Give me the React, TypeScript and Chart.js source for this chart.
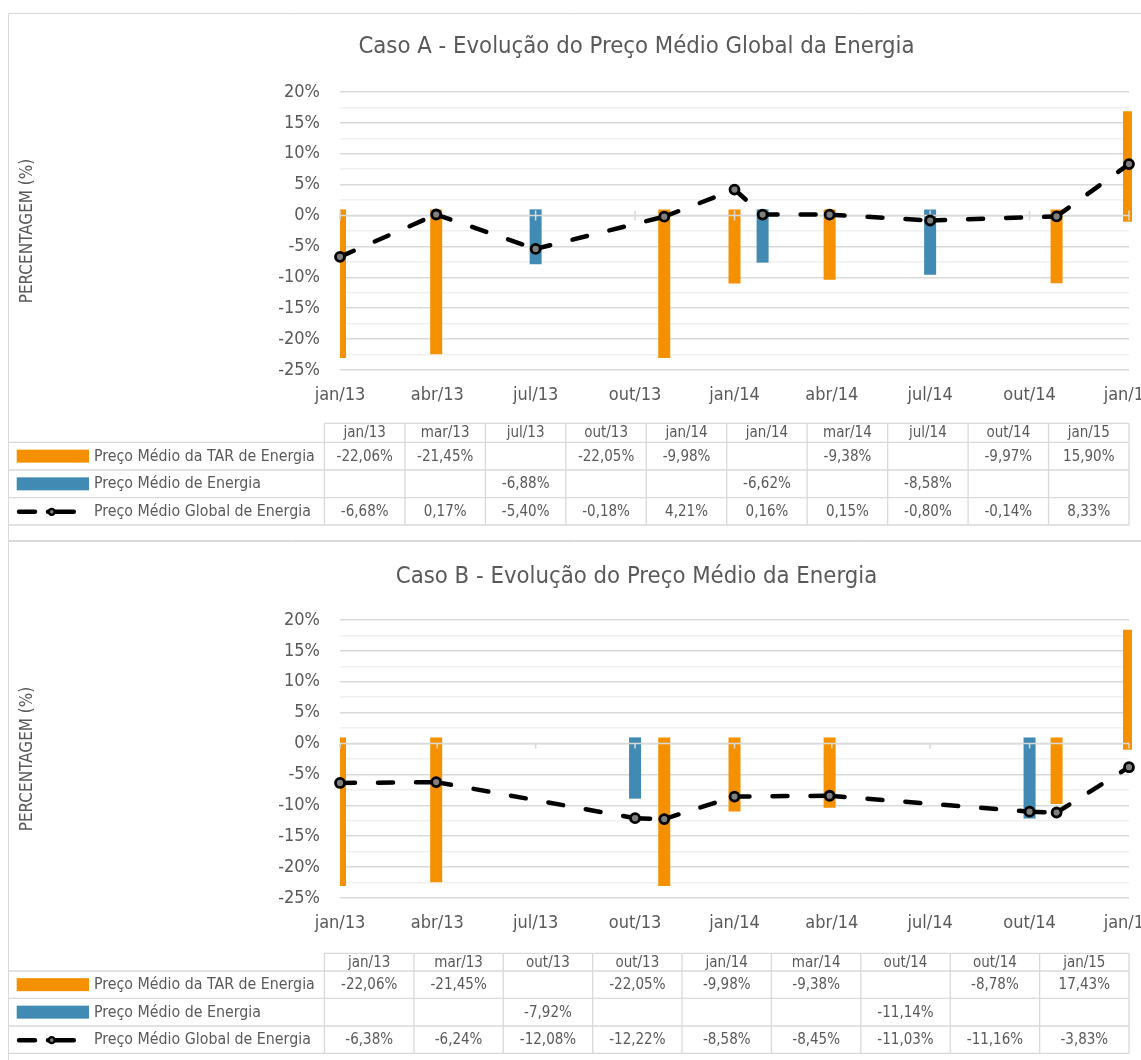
import React, { useEffect, useRef } from 'react';
import { Chart, registerables } from 'chart.js';

Chart.register(...registerables);

// ---------- shared data ----------
const SERIES_NAMES = [
  'Preço Médio da TAR de Energia',
  'Preço Médio de Energia',
  'Preço Médio Global de Energia',
];

const AXIS_TICK_DATES = [
  '2013-01-01', '2013-04-01', '2013-07-01', '2013-10-01', '2014-01-01',
  '2014-04-01', '2014-07-01', '2014-10-01', '2015-01-01',
];
const AXIS_TICK_LABELS = ['jan/13', 'abr/13', 'jul/13', 'out/13', 'jan/14', 'abr/14', 'jul/14', 'out/14', 'jan/15'];
const Y_TITLE = 'PERCENTAGEM (%)';

// ---------- Caso A ----------
const A_TITLE = 'Caso A - Evolução do Preço Médio Global da Energia';
const A_COLUMNS = ['jan/13', 'mar/13', 'jul/13', 'out/13', 'jan/14', 'jan/14', 'mar/14', 'jul/14', 'out/14', 'jan/15'];
const A_DATES = ['2013-01-01', '2013-03-31', '2013-07-01', '2013-10-28', '2014-01-01', '2014-01-27', '2014-03-30', '2014-07-01', '2014-10-26', '2015-01-01'];
const A_TAR = [-22.06, -21.45, null, -22.05, -9.98, null, -9.38, null, -9.97, 15.9];
const A_ENERGIA = [null, null, -6.88, null, null, -6.62, null, -8.58, null, null];
const A_GLOBAL = [-6.68, 0.17, -5.4, -0.18, 4.21, 0.16, 0.15, -0.8, -0.14, 8.33];

// ---------- Caso B ----------
const B_TITLE = 'Caso B - Evolução do Preço Médio da Energia';
const B_COLUMNS = ['jan/13', 'mar/13', 'out/13', 'out/13', 'jan/14', 'mar/14', 'out/14', 'out/14', 'jan/15'];
const B_DATES = ['2013-01-01', '2013-03-31', '2013-10-01', '2013-10-28', '2014-01-01', '2014-03-30', '2014-10-01', '2014-10-26', '2015-01-01'];
const B_TAR = [-22.06, -21.45, null, -22.05, -9.98, -9.38, null, -8.78, 17.43];
const B_ENERGIA = [null, null, -7.92, null, null, null, -11.14, null, null];
const B_GLOBAL = [-6.38, -6.24, -12.08, -12.22, -8.58, -8.45, -11.03, -11.16, -3.83];

// ---------- styles ----------
const FONT = "'DejaVu Sans Condensed', 'DejaVu Sans', sans-serif";
const TEXT = '#595959';
const GRID = '#d9d9d9';
const GRID_MINOR = '#f0f0f0';
const ORANGE = '#F59100';
const BLUE = '#418AB3';
const BAR_PAD = 1; // bars extend ~1 point beyond zero and value
const Y_MIN = -25;
const Y_MAX = 20;
const Y_STEP = 2.5;

const CANVAS_W = 1133;
const CANVAS_H = 528;
const TABLE_LEFT = 316.5;

const dayOf = (iso: string) => {
  const [y, m, d] = iso.split('-').map(Number);
  return Math.round((Date.UTC(y, m - 1, d) - Date.UTC(2013, 0, 1)) / 86400000);
};
const TICK_DAYS = AXIS_TICK_DATES.map(dayOf);
const fmtPct = (v: number) => v.toFixed(2).replace('.', ',') + '%';

type CaseCfg = {
  title: string;
  columns: string[];
  dates: string[];
  tar: (number | null)[];
  energia: (number | null)[];
  global: number[];
  titleY: number;
  lines: number[];
  tickStyle: 'cross' | 'outside';
};

const makeDecor = (cfg: CaseCfg) => ({
  id: 'decor',
  beforeDatasetDraw(chart: any, args: any) {
    if (args.index !== 2) return;
    const { ctx, chartArea } = chart;
    const xs = chart.scales.x;
    const ys = chart.scales.y;
    const y0 = ys.getPixelForValue(0);
    ctx.save();
    ctx.strokeStyle = GRID;
    ctx.lineWidth = 1.5;
    ctx.beginPath();
    ctx.moveTo(chartArea.left, y0);
    ctx.lineTo(chartArea.right, y0);
    TICK_DAYS.forEach((d) => {
      const px = xs.getPixelForValue(d);
      ctx.moveTo(px, cfg.tickStyle === 'cross' ? y0 - 5 : y0);
      ctx.lineTo(px, y0 + 5);
    });
    ctx.stroke();
    ctx.restore();
  },
  afterDraw(chart: any) {
    const { ctx, chartArea } = chart;
    const W = chart.width;
    const H = chart.height;
    ctx.save();
    // box border
    ctx.strokeStyle = GRID;
    ctx.lineWidth = 1;
    ctx.beginPath();
    ctx.moveTo(0.5, H);
    ctx.lineTo(0.5, 0.5);
    ctx.lineTo(W, 0.5);
    ctx.moveTo(0, H - 0.5);
    ctx.lineTo(W, H - 0.5);
    ctx.stroke();

    // title
    ctx.fillStyle = TEXT;
    ctx.font = `23.7px ${FONT}`;
    ctx.textAlign = 'center';
    ctx.textBaseline = 'middle';
    ctx.fillText(cfg.title, 628.5, cfg.titleY);

    // data table
    const L = cfg.lines;
    const right = chartArea.right;
    const n = cfg.columns.length;
    const cw = (right - TABLE_LEFT) / n;
    ctx.strokeStyle = GRID;
    ctx.lineWidth = 1.3;
    ctx.beginPath();
    ctx.moveTo(TABLE_LEFT, L[0]);
    ctx.lineTo(right, L[0]);
    for (let i = 1; i < L.length; i++) {
      ctx.moveTo(0, L[i]);
      ctx.lineTo(right, L[i]);
    }
    for (let j = 0; j <= n; j++) {
      const x = TABLE_LEFT + j * cw;
      ctx.moveTo(x, L[0]);
      ctx.lineTo(x, L[L.length - 1]);
    }
    ctx.stroke();

    ctx.font = `15px ${FONT}`;
    ctx.fillStyle = TEXT;
    ctx.textAlign = 'center';
    ctx.textBaseline = 'middle';
    cfg.columns.forEach((c, j) => {
      ctx.fillText(c, TABLE_LEFT + (j + 0.5) * cw, (L[0] + L[1]) / 2 + 0.5);
    });

    const rows = [cfg.tar, cfg.energia, cfg.global];
    rows.forEach((vals, r) => {
      const mid = (L[r + 1] + L[r + 2]) / 2 + 0.5;
      ctx.fillStyle = TEXT;
      ctx.textAlign = 'center';
      ctx.font = `15px ${FONT}`;
      vals.forEach((v, j) => {
        if (v == null) return;
        ctx.fillText(fmtPct(v), TABLE_LEFT + (j + 0.5) * cw, mid);
      });
      ctx.textAlign = 'left';
      ctx.font = `15.8px ${FONT}`;
      ctx.fillText(SERIES_NAMES[r], 86, mid);
      // legend keys
      if (r < 2) {
        ctx.fillStyle = r === 0 ? ORANGE : BLUE;
        ctx.fillRect(8.7, mid - 7, 72.3, 13);
      } else {
        ctx.strokeStyle = '#000';
        ctx.lineWidth = 4.5;
        ctx.lineCap = 'round';
        ctx.beginPath();
        ctx.moveTo(11, mid);
        ctx.lineTo(27, mid);
        ctx.moveTo(40, mid);
        ctx.lineTo(65.8, mid);
        ctx.stroke();
        ctx.beginPath();
        ctx.arc(43.7, mid, 3, 0, Math.PI * 2);
        ctx.fillStyle = '#808080';
        ctx.fill();
        ctx.lineWidth = 2.4;
        ctx.strokeStyle = '#000';
        ctx.stroke();
      }
    });
    ctx.restore();
  },
});

function CaseChart({ cfg, top }: { cfg: CaseCfg; top: number }) {
  const ref = useRef<HTMLCanvasElement>(null);
  useEffect(() => {
    const canvas = ref.current;
    if (!canvas) return;
    const barData = (vals: (number | null)[]) =>
      vals
        .map((v, i) =>
          v == null
            ? null
            : { x: dayOf(cfg.dates[i]), y: [v < 0 ? BAR_PAD : -BAR_PAD, v < 0 ? v - BAR_PAD : v + BAR_PAD] }
        )
        .filter(Boolean);
    const barClip = { left: 0, top: false, right: 3, bottom: false };
    const chart = new Chart(canvas, {
      type: 'bar',
      data: {
        datasets: [
          {
            type: 'bar',
            label: SERIES_NAMES[0],
            data: barData(cfg.tar) as any,
            backgroundColor: ORANGE,
            maxBarThickness: 12,
            grouped: false,
            order: 2,
            clip: barClip as any,
          },
          {
            type: 'bar',
            label: SERIES_NAMES[1],
            data: barData(cfg.energia) as any,
            backgroundColor: BLUE,
            maxBarThickness: 12,
            grouped: false,
            order: 2,
            clip: barClip as any,
          },
          {
            type: 'line',
            label: SERIES_NAMES[2],
            data: cfg.global.map((v, i) => ({ x: dayOf(cfg.dates[i]), y: v })) as any,
            borderColor: '#000',
            borderWidth: 4.5,
            borderDash: [15, 23],
            borderCapStyle: 'round',
            borderJoinStyle: 'round',
            pointRadius: 4.5,
            pointBorderWidth: 2.8,
            pointBackgroundColor: '#808080',
            pointBorderColor: '#000',
            tension: 0,
            order: 1,
            clip: false as any,
            segment: {
              borderDashOffset: (c: any) => (c.p0DataIndex % 2) * 0.001,
            },
          } as any,
        ],
      },
      options: {
        animation: false,
        responsive: false,
        events: [],
        layout: { padding: { left: 0, right: CANVAS_W - 1121, top: 79, bottom: CANVAS_H - 357 - 45 } },
        plugins: {
          legend: { display: false },
          title: { display: false },
          tooltip: { enabled: false },
        },
        scales: {
          x: {
            type: 'linear',
            offset: false,
            min: 0,
            max: dayOf('2015-01-01'),
            grid: { display: false, drawTicks: false, offset: false },
            border: { display: false },
            afterBuildTicks: (s: any) => {
              s.ticks = TICK_DAYS.map((value) => ({ value }));
            },
            afterFit: (s: any) => {
              s.height = 45;
              s.paddingLeft = 0;
              s.paddingRight = 0;
            },
            ticks: {
              autoSkip: false,
              maxRotation: 0,
              minRotation: 0,
              padding: 15,
              color: TEXT,
              font: { family: FONT, size: 18 },
              callback: (v: any) => {
                const i = TICK_DAYS.indexOf(Number(v));
                return i >= 0 ? AXIS_TICK_LABELS[i] : '';
              },
            },
          },
          y: {
            type: 'linear',
            min: Y_MIN,
            max: Y_MAX,
            afterFit: (s: any) => {
              s.width = 332;
            },
            border: { display: false },
            grid: {
              drawTicks: false,
              lineWidth: 1.5,
              color: (c: any) => (Math.abs(c.tick.value % 5) < 1e-6 ? GRID : GRID_MINOR),
            },
            ticks: {
              stepSize: Y_STEP,
              autoSkip: false,
              padding: 20,
              color: TEXT,
              font: { family: FONT, size: 18 },
              callback: (v: any) => (Math.abs(Number(v) % 5) < 1e-6 ? `${Math.round(Number(v))}%` : ''),
            },
            title: {
              display: true,
              text: Y_TITLE,
              color: TEXT,
              font: { family: FONT, size: 17 },
              padding: { top: 9, bottom: 0 },
            },
          },
        },
      },
      plugins: [makeDecor(cfg) as any],
    });
    return () => chart.destroy();
  }, [cfg]);
  return (
    <canvas
      ref={ref}
      width={CANVAS_W}
      height={CANVAS_H}
      style={{ position: 'absolute', left: 8, top, width: CANVAS_W, height: CANVAS_H }}
    />
  );
}

const CFG_A: CaseCfg = {
  title: A_TITLE,
  columns: A_COLUMNS,
  dates: A_DATES,
  tar: A_TAR,
  energia: A_ENERGIA,
  global: A_GLOBAL,
  titleY: 34,
  lines: [410.3, 429.3, 457, 484.7, 512],
  tickStyle: 'cross',
};

const CFG_B: CaseCfg = {
  title: B_TITLE,
  columns: B_COLUMNS,
  dates: B_DATES,
  tar: B_TAR,
  energia: B_ENERGIA,
  global: B_GLOBAL,
  titleY: 36,
  lines: [412.3, 430, 457.3, 485, 512.3],
  tickStyle: 'outside',
};

export default function App() {
  return (
    <div style={{ position: 'relative', width: 1141, height: 1060, overflow: 'hidden', background: '#fff' }}>
      <style>{'html,body{margin:0;padding:0;overflow:hidden;background:#fff;}'}</style>
      <CaseChart cfg={CFG_A} top={13} />
      <CaseChart cfg={CFG_B} top={541} />
    </div>
  );
}
